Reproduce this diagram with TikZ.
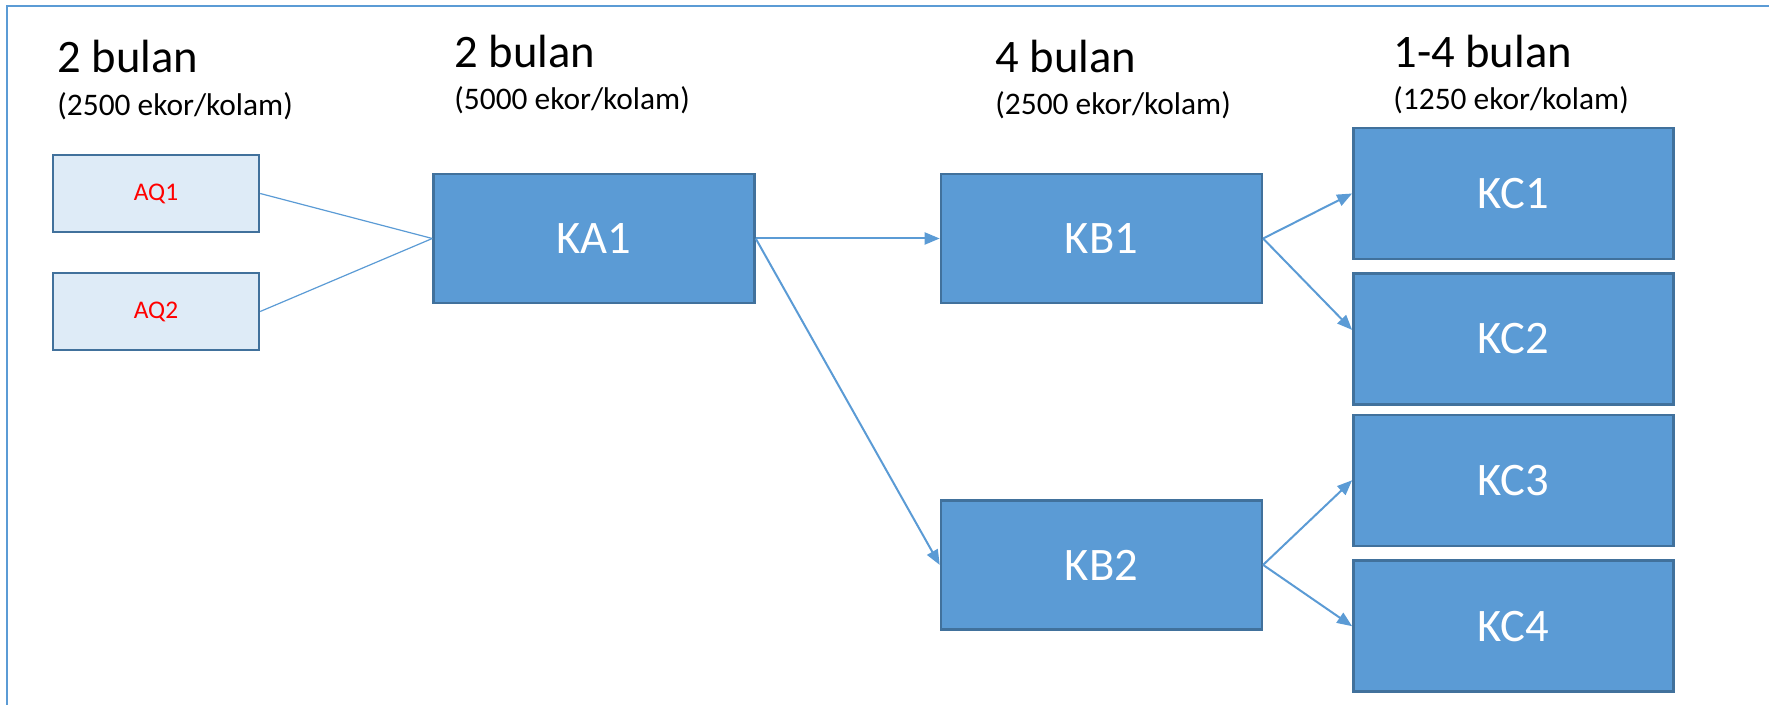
\documentclass[tikz,border=0pt]{standalone}
\usepackage{fontspec}
\setmainfont{Carlito}
\usetikzlibrary{arrows.meta, positioning}

\definecolor{officeblue}{HTML}{5B9BD5}
\definecolor{officeedge}{HTML}{41719C}
\definecolor{paleblue}{HTML}{DEEBF7}

\begin{document}
\begin{tikzpicture}[
    x=0.5pt, y=-0.5pt,
    pond/.style={
        draw=officeedge,
        fill=officeblue,
        line width=1.2pt,
        inner sep=0pt,
        minimum width=160.5pt,
        minimum height=64.5pt,
        text=white,
        font=\fontsize{23.3}{26}\selectfont
    },
    seed/.style={
        draw=officeedge,
        fill=paleblue,
        line width=1.2pt,
        inner sep=0pt,
        minimum width=103pt,
        minimum height=38.5pt,
        text=red,
        font=\fontsize{12.7}{15}\selectfont
    },
    period/.style={
        anchor=base west,
        inner sep=0pt,
        font=\fontsize{23.3}{26}\selectfont
    },
    density/.style={
        anchor=base west,
        inner sep=0pt,
        font=\fontsize{15.7}{18}\selectfont
    },
    link/.style={
        draw=officeblue,
        line width=0.6pt
    },
    arrow/.style={
        -{Triangle[length=7.5pt, width=6pt]},
        draw=officeblue,
        line width=1pt
    }
]
\useasboundingbox (0,0) rectangle (1769,705);

% Frame
\draw [officeblue, line width=1pt] (7,705) -- (7,6.5) -- (1769,6.5);

% Headers
\node (p1) [period] at (57,73) {2 bulan};
\node (d1) [density] at (57,116) {(2500 ekor/kolam)};
\node (p2) [period] at (454,68) {2 bulan};
\node (d2) [density] at (454,110) {(5000 ekor/kolam)};
\node (p3) [period] at (995,73) {4 bulan};
\node (d3) [density] at (995,115) {(2500 ekor/kolam)};
\node (p4) [period] at (1393,68) {1-4 bulan};
\node (d4) [density] at (1393,110) {(1250 ekor/kolam)};

% Nodes
\node (aq1) [seed] at (156,193.5) {AQ1};
\node (aq2) [seed] at (156,311.5) {AQ2};
\node (ka1) [pond] at (594,238.5) {KA1};
\node (kb1) [pond, right=92pt of ka1] {KB1};
\node (kb2) [pond, below=97.5pt of kb1] {KB2};
\node (kc1) [pond, minimum width=160pt, minimum height=65.5pt,
             right=44.5pt of kb1, yshift=22.5pt] {KC1};
\node (kc2) [pond, minimum width=160pt, minimum height=65.5pt,
             below=6pt of kc1] {KC2};
\node (kc3) [pond, minimum width=160pt, minimum height=65.5pt,
             below=4pt of kc2] {KC3};
\node (kc4) [pond, minimum width=160pt, minimum height=65.5pt,
             below=6.25pt of kc3] {KC4};

% Paths
\draw [link] (aq1.east) -- (ka1.west);
\draw [link] (aq2.east) -- (ka1.west);
\draw [arrow] (ka1.east) -- (kb1.west);
\draw [arrow] (ka1.east) -- (kb2.west);
\draw [arrow] (kb1.east) -- (kc1.west);
\draw [arrow] (kb1.east) -- ([yshift=4.5pt]kc2.west);
\draw [arrow] (kb2.east) -- (kc3.west);
\draw [arrow] (kb2.east) -- (kc4.west);

\end{tikzpicture}
\end{document}
